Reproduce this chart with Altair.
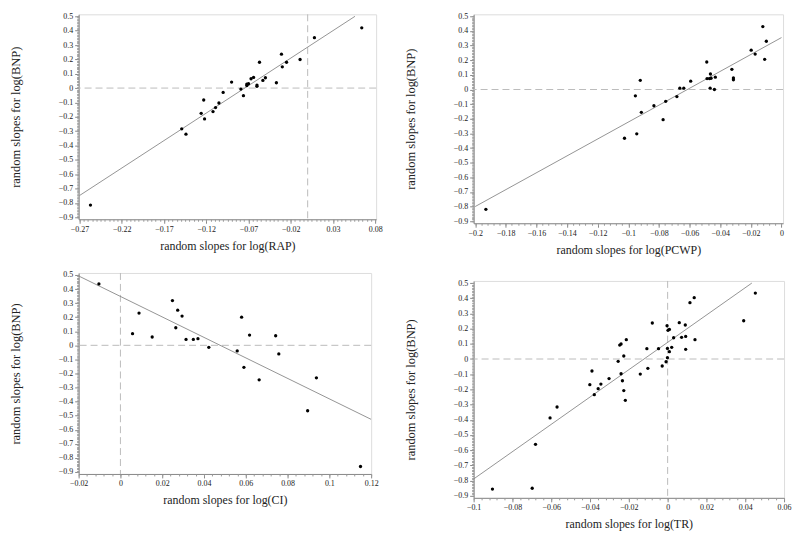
import altair as alt
import pandas as pd

FONT = "Liberation Serif"
Y_TITLE = "random slopes for log(BNP)"

# ---------------- Panel 1: RAP ----------------
p1_x = [-0.257, -0.149, -0.144, -0.126, -0.123, -0.122, -0.112, -0.109, -0.105, -0.100,
        -0.090, -0.079, -0.076, -0.072, -0.072, -0.070, -0.067, -0.064, -0.060, -0.060,
        -0.057, -0.053, -0.050, -0.037, -0.031, -0.030, -0.025, -0.009, 0.008, 0.064]
p1_y = [-0.815, -0.284, -0.321, -0.176, -0.083, -0.215, -0.164, -0.136, -0.104, -0.030,
        0.042, -0.007, -0.053, 0.018, 0.028, 0.030, 0.065, 0.074, 0.021, 0.012,
        0.180, 0.053, 0.072, 0.037, 0.236, 0.148, 0.180, 0.199, 0.351, 0.420]
p1_fit_x = [-0.27, 0.056]
p1_fit_y = [-0.749, 0.5]
p1_xticks = [-0.27, -0.22, -0.17, -0.12, -0.07, -0.02, 0.03, 0.08]

# ---------------- Panel 2: PCWP ----------------
p2_x = [-0.193, -0.1025, -0.0954, -0.0945, -0.0922, -0.0915, -0.0833, -0.0773, -0.0756, -0.0683,
        -0.0664, -0.0638, -0.0593, -0.0488, -0.0486, -0.0470, -0.0466, -0.0464, -0.0460, -0.0438,
        -0.0432, -0.0324, -0.0314, -0.0314, -0.0198, -0.0172, -0.0122, -0.0110, -0.0099]
p2_y = [-0.819, -0.333, -0.043, -0.303, 0.063, -0.156, -0.111, -0.206, -0.081, -0.048,
        0.009, 0.009, 0.057, 0.188, 0.075, 0.075, 0.009, 0.106, 0.077, 0.0,
        0.084, 0.138, 0.079, 0.066, 0.269, 0.242, 0.430, 0.206, 0.330]
p2_fit_x = [-0.2, 0.0]
p2_fit_y = [-0.80, 0.355]
p2_xticks = [-0.2, -0.18, -0.16, -0.14, -0.12, -0.1, -0.08, -0.06, -0.04, -0.02, 0]

# ---------------- Panel 3: CI ----------------
p3_x = [-0.0103, 0.0058, 0.0089, 0.0152, 0.0249, 0.0265, 0.0274, 0.0295, 0.0314, 0.0349,
        0.0371, 0.0423, 0.0559, 0.0580, 0.0591, 0.0618, 0.0664, 0.0743, 0.0758, 0.0896,
        0.0938, 0.1149]
p3_y = [0.436, 0.083, 0.229, 0.059, 0.318, 0.125, 0.250, 0.208, 0.042, 0.042,
        0.047, -0.014, -0.040, 0.200, -0.156, 0.073, -0.245, 0.068, -0.061, -0.465,
        -0.231, -0.861]
p3_fit_x = [-0.02, 0.12]
p3_fit_y = [0.493, -0.526]
p3_xticks = [-0.02, 0, 0.02, 0.04, 0.06, 0.08, 0.1, 0.12]

# ---------------- Panel 4: TR ----------------
p4_x = [-0.0903, -0.0698, -0.0681, -0.0606, -0.0570, -0.0401, -0.0390, -0.0378, -0.0358, -0.0344,
        -0.0302, -0.0255, -0.0247, -0.0240, -0.0240, -0.0233, -0.0226, -0.0226, -0.0218, -0.0213,
        -0.0141, -0.0107, -0.0102, -0.0079, -0.0047, -0.0028, -0.0008, -0.0003, -0.0001, -0.0001,
        0.0002, 0.0009, 0.0009, 0.0021, 0.0031, 0.0060, 0.0072, 0.0091, 0.0093, 0.0093,
        0.0115, 0.0137, 0.0141, 0.0392, 0.0452]
p4_y = [-0.856, -0.851, -0.562, -0.388, -0.316, -0.169, -0.079, -0.235, -0.195, -0.165,
        -0.129, -0.015, 0.092, 0.099, -0.097, -0.143, -0.208, 0.020, -0.272, 0.127,
        -0.099, 0.068, -0.061, 0.237, 0.068, -0.046, -0.018, 0.219, 0.009, 0.070,
        0.189, 0.195, 0.048, 0.077, 0.140, 0.239, 0.143, 0.224, 0.149, 0.064,
        0.371, 0.404, 0.127, 0.252, 0.434]
p4_fit_x = [-0.1, 0.0434]
p4_fit_y = [-0.79, 0.5]
p4_xticks = [-0.1, -0.08, -0.06, -0.04, -0.02, 0, 0.02, 0.04, 0.06]

y_major = [0.5, 0.4, 0.3, 0.2, 0.1, 0, -0.1, -0.2, -0.3, -0.4, -0.5, -0.6, -0.7, -0.8, -0.9]
Y_DOMAIN = [-0.914, 0.514]


def minor_list(start, stop, step):
    n = int(round((stop - start) / step))
    return [round(start + i * step, 4) for i in range(n + 1)]


def major_axis(title, values, orient, title_pad, label_pad, title_size):
    return alt.Axis(
        title=title, values=values, format=".2~f", orient=orient,
        tickSize=4, tickColor="#888", domainColor="#888", grid=False,
        labelFont=FONT, labelFontSize=8, labelColor="#222",
        labelPadding=label_pad, labelOverlap=False, labelFlush=False, labelBound=False,
        titleFont=FONT, titleFontSize=title_size, titleFontWeight="normal",
        titleColor="#222", titlePadding=title_pad,
    )


def minor_axis(values, orient):
    return alt.Axis(
        title=None, values=values, orient=orient, labels=False, domain=False,
        tickSize=2, tickColor="#999", grid=False,
    )


def panel(px, py, fx, fy, xdom, xmajor, xminor, xtitle, w, h, vline=True):
    pts = pd.DataFrame({"x": px, "y": py})
    fit = pd.DataFrame({"x": fx, "y": fy})
    zero = pd.DataFrame({"x": [0], "y": [0]})
    xs = alt.Scale(domain=xdom, nice=False, zero=False)
    ys = alt.Scale(domain=Y_DOMAIN, nice=False, zero=False)
    X = alt.X("x:Q", scale=xs, axis=major_axis(xtitle, xmajor, "bottom", 7, 2, 12))
    Y = alt.Y("y:Q", scale=ys, axis=major_axis(Y_TITLE, y_major, "left", 36, 2, 12.5))
    layers = [
        alt.Chart(zero).mark_rule(color="#bbb", strokeDash=[7, 4], strokeWidth=1).encode(y=Y),
    ]
    if vline:
        layers.append(alt.Chart(zero).mark_rule(color="#bbb", strokeDash=[7, 4], strokeWidth=1).encode(x=X))
    layers.append(alt.Chart(fit).mark_line(color="#888", strokeWidth=0.9, clip=True).encode(x=X, y=Y))
    layers.append(alt.Chart(pts).mark_circle(color="#000", size=11, opacity=1).encode(x=X, y=Y))
    main = alt.layer(*layers)
    minor = alt.Chart(pts).mark_point(opacity=0).encode(
        x=alt.X("x:Q", scale=xs, axis=minor_axis(xminor, "bottom")),
        y=alt.Y("y:Q", scale=ys, axis=minor_axis(minor_list(-0.9, 0.5, 0.01), "left")),
    )
    return alt.layer(main, minor).resolve_axis(x="independent", y="independent").properties(width=w, height=h)


c1 = panel(p1_x, p1_y, p1_fit_x, p1_fit_y, [-0.271, 0.081], p1_xticks,
           minor_list(-0.27, 0.08, 0.005), "random slopes for log(RAP)", 299, 206)
c2 = panel(p2_x, p2_y, p2_fit_x, p2_fit_y, [-0.201, 0.001], p2_xticks,
           minor_list(-0.2, 0.0, 0.004), "random slopes for log(PCWP)", 311, 210, vline=False)
c3 = panel(p3_x, p3_y, p3_fit_x, p3_fit_y, [-0.02, 0.12], p3_xticks,
           minor_list(-0.02, 0.12, 0.004), "random slopes for log(CI)", 294, 202)
c4 = panel(p4_x, p4_y, p4_fit_x, p4_fit_y, [-0.1, 0.06], p4_xticks,
           minor_list(-0.1, 0.06, 0.004), "random slopes for log(TR)", 312, 218)

chart = alt.hconcat(
    alt.vconcat(c1, c3, spacing=18),
    alt.vconcat(c2, c4, spacing=22),
    spacing=20,
).properties(padding={"left": 0, "top": 2, "right": 0, "bottom": 0}
).configure_view(stroke="#999", strokeWidth=1
).configure_axis(labelFont=FONT, titleFont=FONT
).configure(background="white")

chart.save("out.html", embed_options={"renderer": "svg", "actions": False})
